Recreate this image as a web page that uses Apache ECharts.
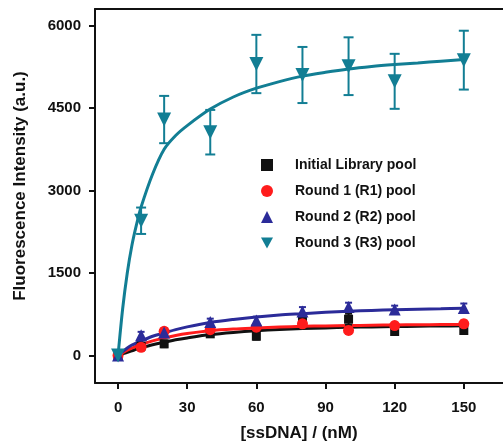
<!DOCTYPE html>
<html>
<head>
<meta charset="utf-8">
<script src="https://cdn.jsdelivr.net/npm/echarts@6/dist/echarts.min.js"></script>
<style>
  html, body { margin: 0; padding: 0; background: #fff; }
  #chart { width: 503px; height: 443px; }
</style>
</head>
<body>
<div id="chart"></div>
<script>
// measured points
const conc = [0, 10, 20, 40, 60, 80, 100, 120, 150];
const initial = [0, 170, 212, 394, 350, 640, 660, 436, 455];
const initialErr = [0, 50, 60, 50, 60, 60, 100, 60, 60];
const r1 = [0, 150, 440, 470, 515, 576, 455, 545, 576];
const r1Err = [0, 50, 60, 50, 60, 60, 60, 50, 60];
const r2 = [0, 370, 420, 610, 636, 800, 880, 836, 865];
const r2Err = [0, 60, 50, 60, 70, 80, 80, 70, 80];
const r3 = [0, 2450, 4290, 4060, 5300, 5100, 5260, 4985, 5370];
const r3Err = [0, 240, 430, 405, 530, 510, 525, 500, 535];

// fitted curves
const fitConc = [0, 2, 4, 6, 8, 10, 15, 20, 25, 30, 40, 50, 60, 70, 80, 90, 100, 110, 120, 130, 140, 150];
const initialFit = [0, 30, 60, 85, 115, 140, 195, 240, 285, 320, 380, 420, 450, 472, 490, 502, 512, 520, 526, 532, 536, 540];
const r1Fit = [0, 50, 95, 135, 170, 200, 265, 320, 365, 400, 450, 480, 500, 518, 530, 538, 545, 550, 555, 559, 562, 565];
const r2Fit = [0, 70, 135, 190, 230, 265, 350, 410, 470, 520, 600, 655, 700, 735, 760, 785, 805, 820, 832, 842, 850, 858];
const r3Fit = [0, 850, 1500, 2000, 2380, 2700, 3300, 3750, 4000, 4180, 4480, 4700, 4860, 4980, 5080, 5150, 5210, 5255, 5290, 5320, 5350, 5380];

const xTicks = [0, 30, 60, 90, 120, 150];
const yTicks = [0, 1500, 3000, 4500, 6000];

const names = ['Initial Library pool', 'Round 1 (R1) pool', 'Round 2 (R2) pool', 'Round 3 (R3) pool'];
const colors = ['#111111', '#ff1c1c', '#2b2b99', '#127e94'];
const symbols = ['rect', 'circle', 'triangle', 'triangle'];
const legendIcons = ['rect', 'circle', 'triangle', 'path://M0,0 L10,0 L5,9 Z'];
const rotates = [0, 0, 0, 180];
const sizes = [9, 11, 12, 14];
const values = [initial, r1, r2, r3];
const errs = [initialErr, r1Err, r2Err, r3Err];
const fits = [initialFit, r1Fit, r2Fit, r3Fit];

const font = 'Liberation Sans, Arial, sans-serif';

let chart = echarts.init(document.getElementById('chart'));

let series = [];
// fit lines
fits.forEach((f, k) => {
  series.push({
    type: 'line',
    data: fitConc.map((c, i) => [c, f[i]]),
    smooth: 0.3,
    showSymbol: false,
    lineStyle: {color: colors[k], width: 3},
    z: 2
  });
});
// error bars
errs.forEach((e, k) => {
  series.push({
    type: 'custom',
    data: conc.map((c, i) => [c, values[k][i] - e[i], values[k][i] + e[i]]),
    renderItem: function (params, api) {
      const lo = api.coord([api.value(0), api.value(1)]);
      const hi = api.coord([api.value(0), api.value(2)]);
      const w = k === 3 ? 5 : 3.5;
      const style = {stroke: colors[k], lineWidth: 2};
      return {
        type: 'group',
        children: [
          {type: 'line', shape: {x1: lo[0], y1: lo[1], x2: hi[0], y2: hi[1]}, style: style},
          {type: 'line', shape: {x1: lo[0] - w, y1: lo[1], x2: lo[0] + w, y2: lo[1]}, style: style},
          {type: 'line', shape: {x1: hi[0] - w, y1: hi[1], x2: hi[0] + w, y2: hi[1]}, style: style}
        ]
      };
    },
    z: 3
  });
});
// markers
values.forEach((v, k) => {
  series.push({
    name: names[k],
    type: 'scatter',
    data: conc.map((c, i) => [c, v[i]]),
    symbol: symbols[k],
    symbolRotate: rotates[k],
    symbolSize: sizes[k],
    itemStyle: {color: colors[k], opacity: 1},
    z: 4
  });
});

chart.setOption({
  animation: false,
  grid: {left: 95, right: 0, top: 9, bottom: 60, outerBoundsMode: 'none'},
  legend: {
    data: names.map((n, k) => ({name: n, icon: legendIcons[k]})),
    orient: 'vertical',
    left: 256,
    top: 153,
    itemWidth: 12,
    itemHeight: 12,
    itemGap: 12,
    textStyle: {fontFamily: font, fontWeight: 'bold', fontSize: 14, color: '#111', padding: [0, 0, 0, 17]}
  },
  xAxis: [{
    type: 'value',
    min: -10,
    max: 167,
    name: '[ssDNA] / (nM)',
    nameLocation: 'middle',
    nameGap: 42,
    nameTextStyle: {fontFamily: font, fontWeight: 'bold', fontSize: 17, color: '#111'},
    axisLine: {onZero: false, lineStyle: {color: '#111', width: 2}},
    axisTick: {customValues: xTicks, length: 6, lineStyle: {color: '#111', width: 2}},
    axisLabel: {customValues: xTicks, margin: 17, fontFamily: font, fontWeight: 'bold', fontSize: 15, color: '#111'},
    splitLine: {show: false}
  }, {
    type: 'value',
    position: 'top',
    min: -10,
    max: 167,
    axisLine: {show: true, onZero: false, lineStyle: {color: '#111', width: 2}},
    axisTick: {show: false},
    axisLabel: {show: false},
    splitLine: {show: false}
  }],
  yAxis: {
    type: 'value',
    min: -500,
    max: 6300,
    name: 'Fluorescence Intensity (a.u.)',
    nameLocation: 'middle',
    nameGap: 66,
    nameTextStyle: {fontFamily: font, fontWeight: 'bold', fontSize: 17, color: '#111', padding: [0, 0, 0, 20]},
    axisLine: {show: true, onZero: false, lineStyle: {color: '#111', width: 2}},
    axisTick: {show: true, customValues: yTicks, length: 6, lineStyle: {color: '#111', width: 2}},
    axisLabel: {customValues: yTicks, margin: 14, fontFamily: font, fontWeight: 'bold', fontSize: 15, color: '#111',
      formatter: v => String(v)},
    splitLine: {show: false}
  },
  series: series
});
</script>
</body>
</html>
